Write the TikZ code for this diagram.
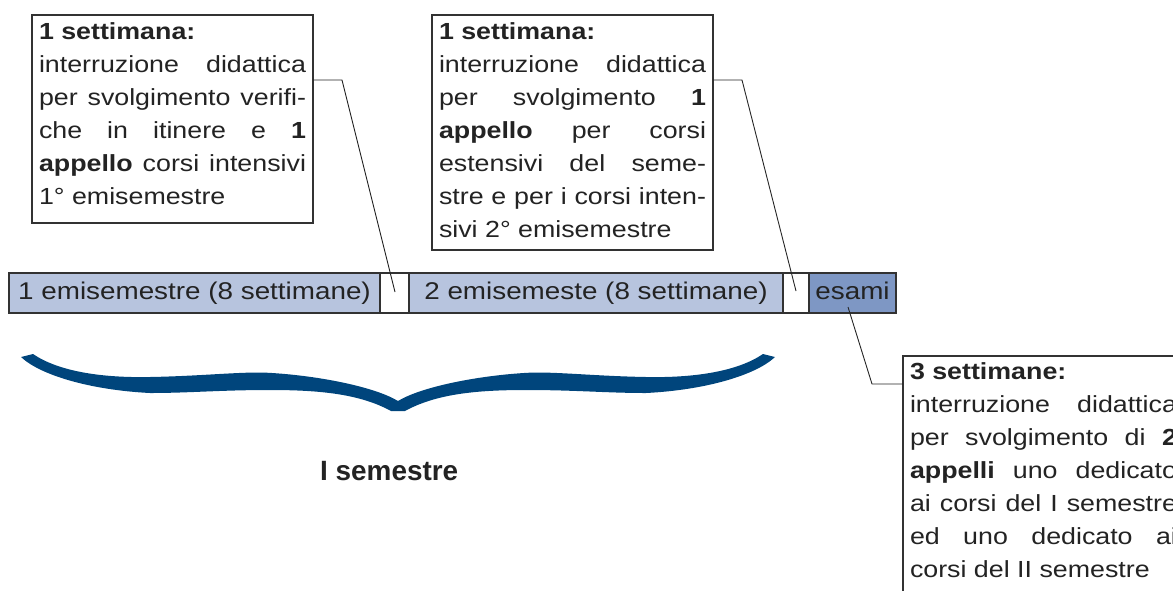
\documentclass[tikz,border=0pt]{standalone}
\usepackage{fontspec}
\setmainfont{Liberation Sans}[FakeStretch=1.15]
\newfontfamily\semfont{Liberation Sans}
\usetikzlibrary{calc}
\definecolor{segA}{RGB}{183,196,222}
\definecolor{segB}{RGB}{126,151,196}
\definecolor{braceblue}{RGB}{0,69,124}
\definecolor{ink}{RGB}{35,35,35}
\definecolor{edge}{RGB}{50,50,50}
\newcommand\jline[1]{\makebox[267pt][s]{#1}}
\begin{document}
\begin{tikzpicture}[x=1pt,y=-1pt,
  infobox/.style={draw=edge, line width=1.3pt, fill=white, inner sep=0pt, outer sep=0pt, anchor=north west,
    minimum width=281pt, text=ink, font=\fontsize{23.3}{33}\selectfont},
  seg/.style={draw=edge, line width=1.2pt, inner sep=0pt, outer sep=0pt, anchor=north west, minimum height=40pt,
    text height=18pt, text depth=5pt, text=ink, font=\fontsize{24.2}{28}\selectfont},
  conn/.style={draw=black!85, line width=0.9pt},
]
\useasboundingbox (0,0) rectangle (1173,590);

% info boxes
\node[infobox, minimum height=208pt] (b1) at (32,15) {\parbox[c][208pt][t]{267pt}{%
  \rule{0pt}{24pt}\textbf{1 settimana:}\\
  \jline{interruzione didattica}\\
  \jline{per svolgimento verifi-}\\
  \jline{che in itinere e \textbf{1}}\\
  \jline{\textbf{appello} corsi intensivi}\\
  1° emisemestre}};

\node[infobox, minimum height=235pt] (b2) at (432,15) {\parbox[c][235pt][t]{267pt}{%
  \rule{0pt}{24pt}\textbf{1 settimana:}\\
  \jline{interruzione didattica}\\
  \jline{per svolgimento \textbf{1}}\\
  \jline{\textbf{appello} per corsi}\\
  \jline{estensivi del seme-}\\
  \jline{stre e per i corsi inten-}\\
  sivi 2° emisemestre}};

\node[infobox, minimum height=250pt] (b3) at (903,356) {\parbox[c][250pt][t]{267pt}{%
  \rule{0pt}{23pt}\textbf{3 settimane:}\\
  \jline{interruzione didattica}\\
  \jline{per svolgimento di \textbf{2}}\\
  \jline{\textbf{appelli} uno dedicato}\\
  \jline{ai corsi del I semestre}\\
  \jline{ed uno dedicato ai}\\
  corsi del II semestre}};

% timeline bar
\node[seg, fill=segA, minimum width=371pt] (s1) at (9,273) {1 emisemestre (8 settimane)};
\node[seg, fill=white, minimum width=29pt] (g1) at (s1.north east) {};
\node[seg, fill=segA, minimum width=374pt] (s2) at (g1.north east) {2 emisemeste (8 settimane)};
\node[seg, fill=white, minimum width=26pt] (g2) at (s2.north east) {};
\node[seg, fill=segB, minimum width=87pt] (ex) at (g2.north east) {esami};

% connectors
\coordinate (e1) at (395,292);
\coordinate (e2) at (796,291);
\coordinate (e3) at (848,307);
\draw[conn] ($(b1.north east)+(0,65)$) -- ++(29,0) -- (e1);
\draw[conn] ($(b2.north east)+(0,65)$) -- ++(29,0) -- (e2);
\draw[conn] (e3) -- (872,384) -- ($(b3.north west)+(0,28)$);

% brace
\fill[braceblue] (21,357) -- (33,354)
  .. controls (58,371) and (100,378) .. (150,377)
  .. controls (205,376) and (245,371) .. (272,373)
  .. controls (320,376) and (375,387) .. (398,401)
  .. controls (421,387) and (476,376) .. (524,373)
  .. controls (551,371) and (591,376) .. (646,377)
  .. controls (696,378) and (738,371) .. (763,354)
  -- (775,357)
  .. controls (756,375) and (706,390) .. (646,393)
  .. controls (606,393) and (576,390) .. (526,390)
  .. controls (476,390) and (436,394) .. (405,411)
  -- (391,411)
  .. controls (360,394) and (320,390) .. (270,390)
  .. controls (220,390) and (190,393) .. (150,393)
  .. controls (90,390) and (40,375) .. (21,357) -- cycle;

\node[anchor=base west, inner sep=0pt, text=ink, font=\semfont\bfseries\fontsize{27.9}{30}\selectfont] (sem) at (320,480) {I semestre};
\end{tikzpicture}
\end{document}
